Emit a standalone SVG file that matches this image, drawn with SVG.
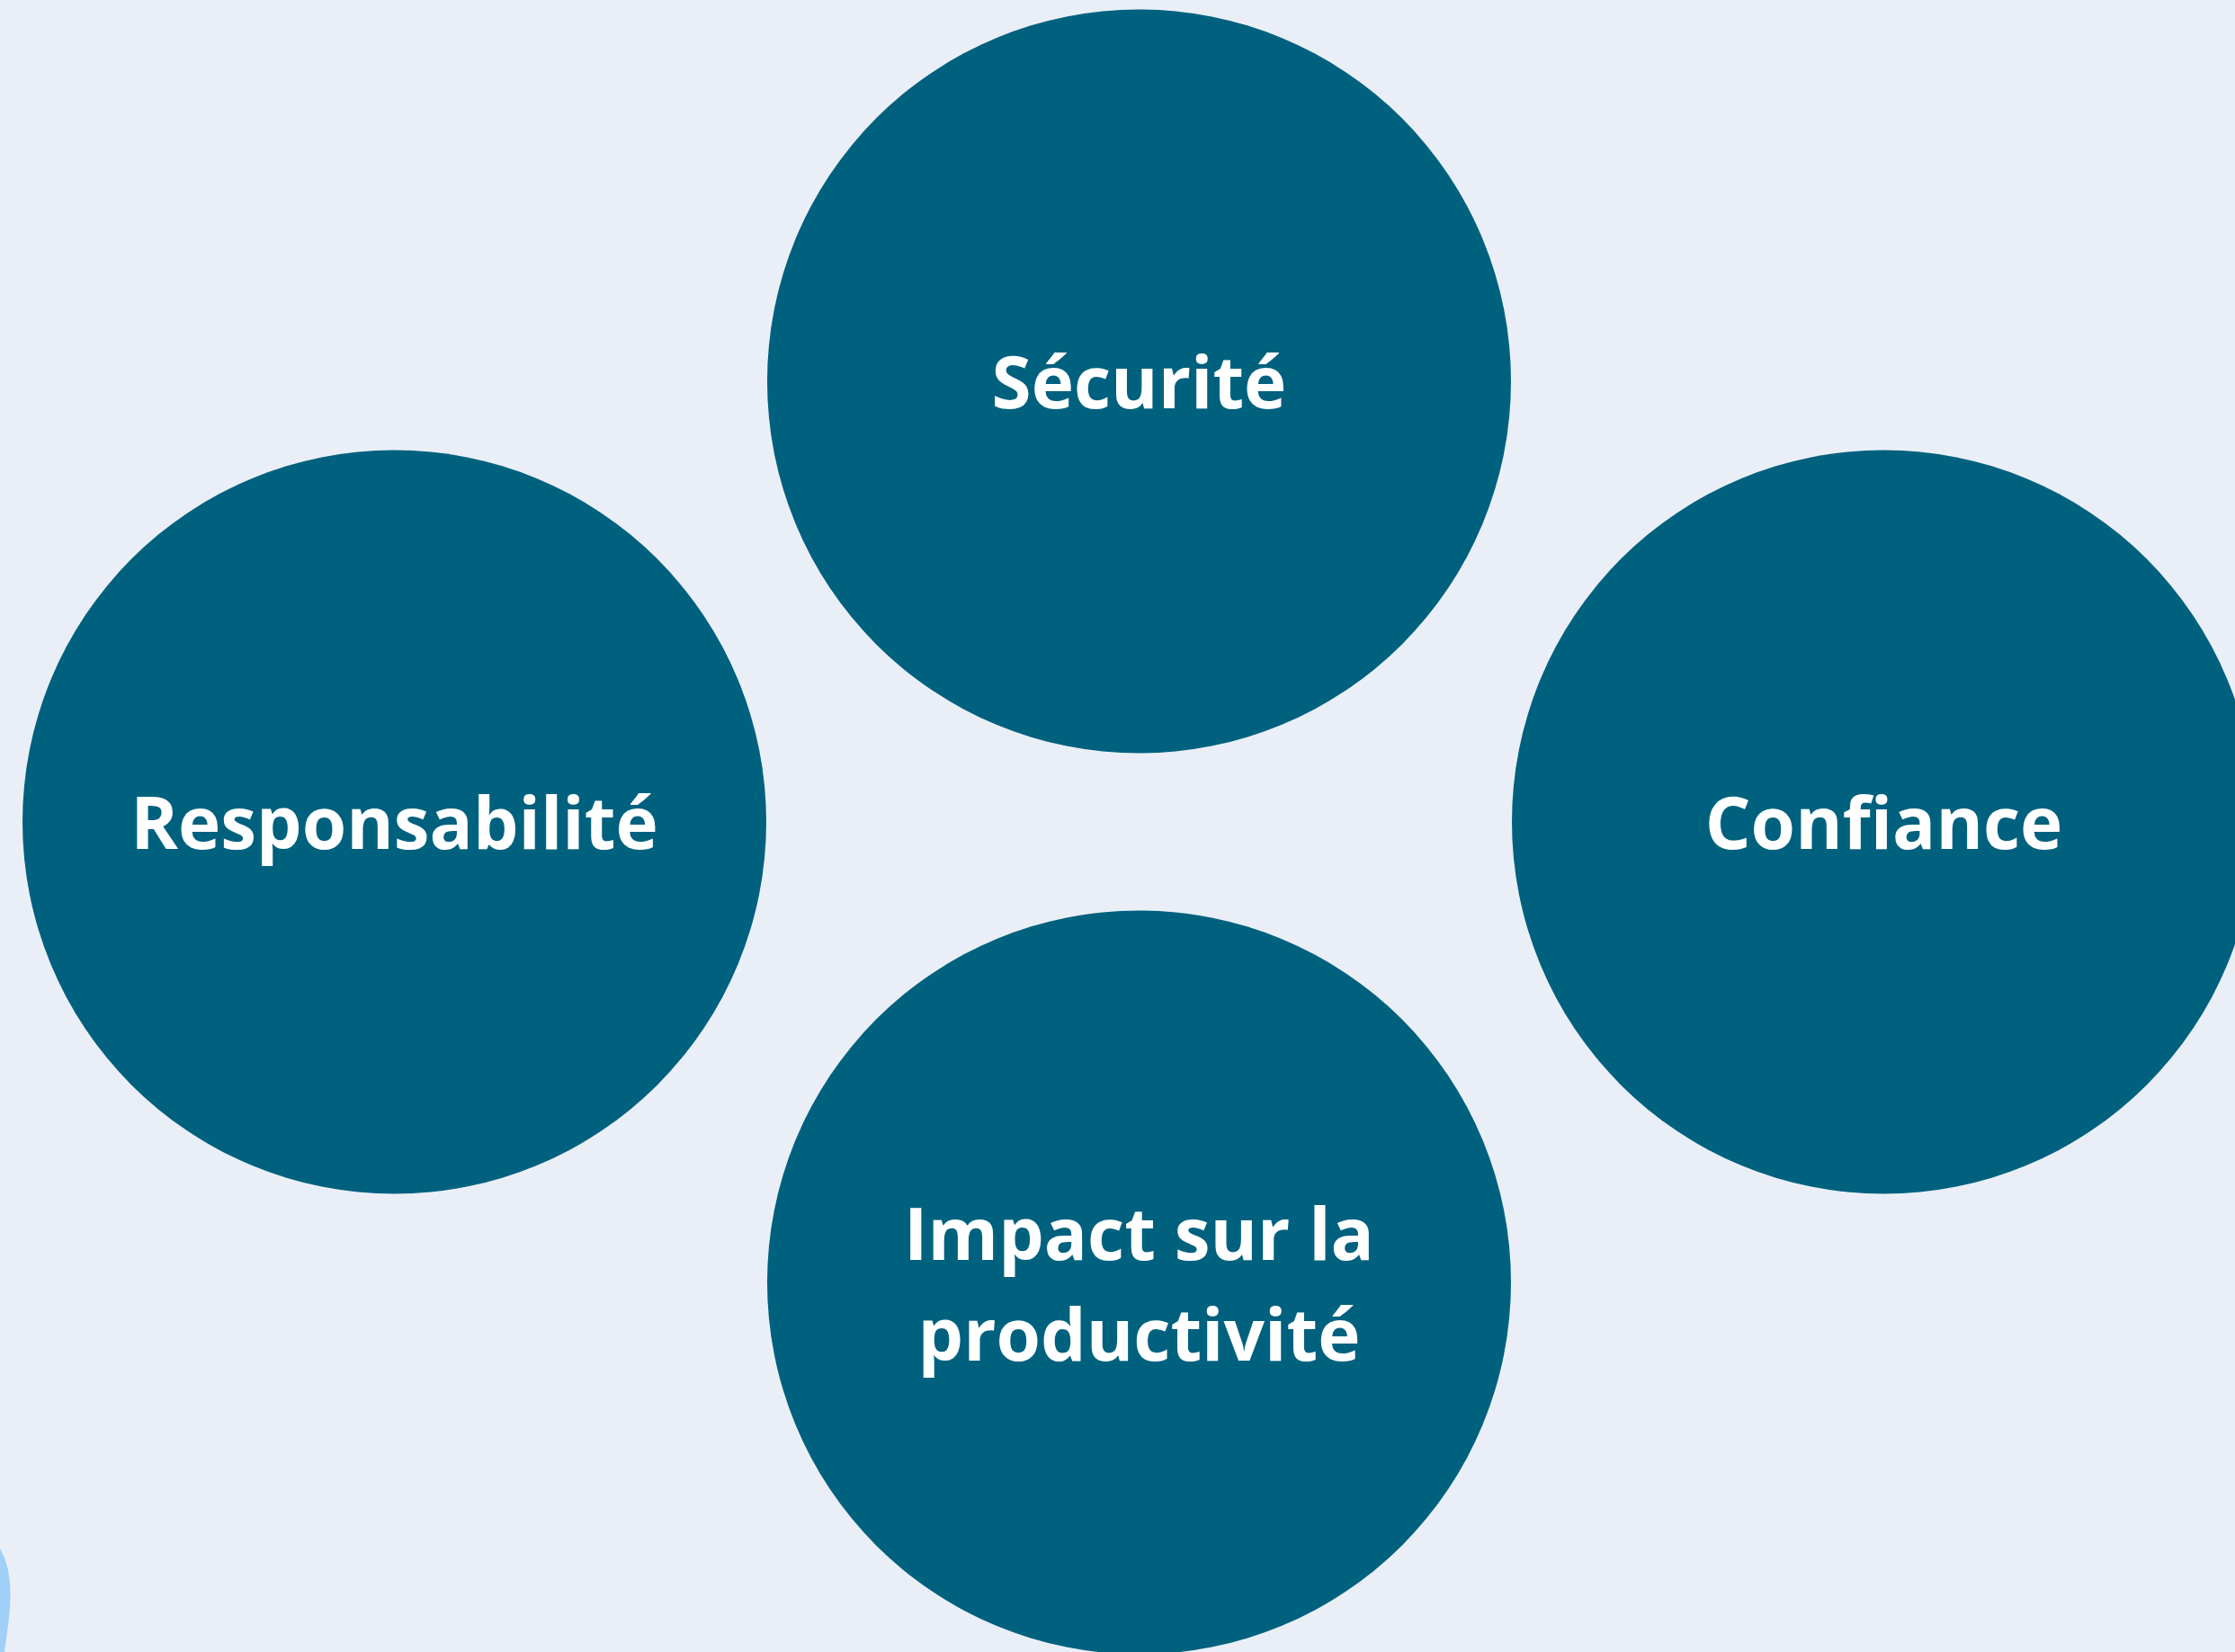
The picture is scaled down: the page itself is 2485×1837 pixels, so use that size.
<svg xmlns="http://www.w3.org/2000/svg" width="2485" height="1837" viewBox="0 0 2485 1837">
<style>
.bg{fill:#eaeff7}
.node{fill:#00617f}
.lbl{fill:#ffffff;font-family:"Open Sans","Noto Sans","Liberation Sans",sans-serif;font-weight:700;font-size:80px;text-anchor:middle}
</style>
<rect class="bg" x="0" y="0" width="2485" height="1837"/>
<path d="M0,1722 C8,1735 12,1755 11.5,1775 C11,1800 7,1820 5,1837 L0,1837 Z" fill="#a0cff8"/>
<g id="connectors"></g>
<g id="node-securite">
<circle class="node" cx="1266.5" cy="424" r="413.5"/>
<text class="lbl" x="1266.5" y="454">Sécurité</text>
</g>
<g id="node-responsabilite">
<circle class="node" cx="438.5" cy="914" r="413.5"/>
<text class="lbl" x="438.5" y="944">Responsabilité</text>
</g>
<g id="node-confiance">
<circle class="node" cx="2094.5" cy="914" r="413.5"/>
<text class="lbl" x="2094.5" y="944">Confiance</text>
</g>
<g id="node-impact">
<circle class="node" cx="1266.5" cy="1426" r="413.5"/>
<text class="lbl" x="1266.5" y="1401">Impact sur la</text>
<text class="lbl" x="1266.5" y="1513">productivité</text>
</g>
</svg>
